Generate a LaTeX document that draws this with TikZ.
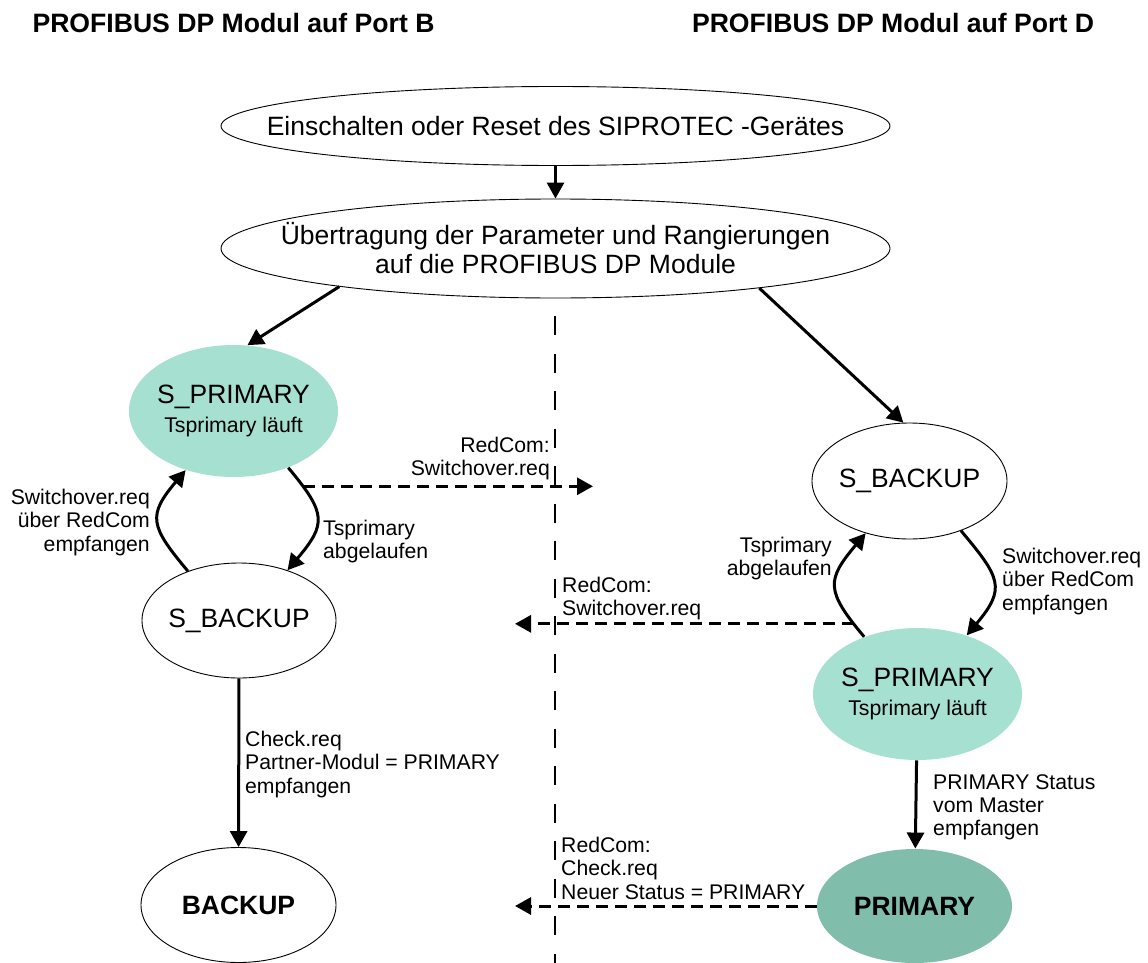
\documentclass[tikz,border=0pt]{standalone}
\usepackage{fontspec}
\setmainfont{Liberation Sans}
\usepackage{tikz}
\usetikzlibrary{shapes, arrows.meta, calc, positioning}
\definecolor{sprim}{RGB}{166,224,208}
\definecolor{prim}{RGB}{128,189,171}

\begin{document}
\begin{tikzpicture}[x=1pt, y=-1pt, >={Triangle[length=16pt,width=17pt]}]
    \tikzstyle{zustand} = [draw, ellipse, line width=0.9pt, inner xsep=-60pt, inner ysep=0pt,
	align=center, font=\fontsize{26.5}{29}\selectfont]
    \tikzstyle{aktiv} = [zustand, draw=none, fill=sprim]
    \tikzstyle{ende} = [zustand, font=\bfseries\fontsize{26.5}{29}\selectfont]
    \tikzstyle{info} = [inner sep=0pt, font=\fontsize{21.2}{23.3}\selectfont]
    \tikzstyle{titel} = [inner sep=0pt, font=\bfseries\fontsize{26.6}{30}\selectfont]
    \tikzstyle{pfeil} = [->, line width=3pt]
    \tikzstyle{meldung} = [->, line width=3pt, dash pattern=on 12pt off 7pt]

	\useasboundingbox (0,0) rectangle (1148,963);

	\node[titel] (portB) at (233.5,23) {PROFIBUS DP Modul auf Port B};
	\node[titel] (portD) at (893,23) {PROFIBUS DP Modul auf Port D};

	\begin{scope}
		\path
			node[zustand, minimum width=669pt, minimum height=79pt] (reset) at (555.5,126)
				{Einschalten oder Reset des SIPROTEC -Gerätes}
			node[zustand, minimum width=669pt, minimum height=99pt] (param) at (555.5,248.5)
				{Übertragung der Parameter und Rangierungen\\auf die PROFIBUS DP Module}

			node[aktiv, minimum width=209pt, minimum height=132pt] (sprimB) at (233.5,411)
				{S\_PRIMARY\\{\fontsize{21.3}{30}\selectfont Tsprimary läuft}}
			node[zustand, minimum width=194pt, minimum height=115pt] (sbackB) at (239,620.5) {S\_BACKUP}
			node[ende, minimum width=195pt, minimum height=115pt] (backB) at (238.5,905) {BACKUP}

			node[zustand, minimum width=195pt, minimum height=116pt] (sbackD) at (909.5,481) {S\_BACKUP}
			node[aktiv, minimum width=209pt, minimum height=132pt] (sprimD) at (917.5,694)
				{S\_PRIMARY\\{\fontsize{21.3}{30}\selectfont Tsprimary läuft}}
			node[ende, draw=none, fill=prim, minimum width=195pt, minimum height=114pt] (primD) at (914.5,906) {PRIMARY}
		;

		\path[pfeil]
			(reset) edge (param)
			(param.190.6) edge (sprimB.78)
			(param.-11.6) edge (sbackD.96)
			(sbackB) edge (backB)
			(sprimD) edge (primD)
		;

		\draw[pfeil] (sbackB.136) to[out=130, in=230, looseness=1.5] (sprimB.231);
		\draw[pfeil] (sprimB.-46) to[out=-50, in=50, looseness=1.5] coordinate[pos=0.15] (sendB) (sbackB.46);
		\draw[pfeil] (sprimD.133) to[out=130, in=230, looseness=1.5] coordinate[pos=0.1] (sendD) (sbackD.230);
		\draw[pfeil] (sbackD.-44) to[out=-50, in=50, looseness=1.5] (sprimD.50);
	\end{scope}

	\coordinate (trennOben) at (555,316);
	\coordinate (trennUnten) at (555,963);
	\draw[line width=2pt, dash pattern=on 19pt off 18.5pt] (trennOben) -- (trennUnten);

	\coordinate (zielD) at (593,483);
	\coordinate (zielB) at (515,623);
	\coordinate (zielP) at (515,906);
	\draw[meldung] (sendB) -- (sendB -| zielD);
	\draw[meldung] (sendD) -- (sendD -| zielB);
	\draw[meldung] (primD.west) -- (primD.west -| zielP);

	\node[info, anchor=north east, align=right] (lblSwB) at (150,489) {Switchover.req\\über RedCom\\empfangen};
	\node[info, anchor=north west, align=left] (lblTsB) at (323,520) {Tsprimary\\abgelaufen};
	\node[info, anchor=north east, align=right] (lblRcB) at (550,437) {RedCom:\\Switchover.req};
	\node[info, anchor=north west, align=left] (lblCk) at (245,731) {Check.req\\Partner-Modul = PRIMARY\\empfangen};
	\node[info, anchor=north east, align=right] (lblTsD) at (832,537) {Tsprimary\\abgelaufen};
	\node[info, anchor=north west, align=left] (lblSwD) at (1002,548) {Switchover.req\\über RedCom\\empfangen};
	\node[info, anchor=north west, align=left] (lblRcD) at (562,577) {RedCom:\\Switchover.req};
	\node[info, anchor=north west, align=left] (lblSt) at (933,774) {PRIMARY Status\\vom Master\\empfangen};
	\node[info, anchor=north west, align=left] (lblRcP) at (561,837) {RedCom:\\Check.req\\Neuer Status = PRIMARY};
\end{tikzpicture}
\end{document}
